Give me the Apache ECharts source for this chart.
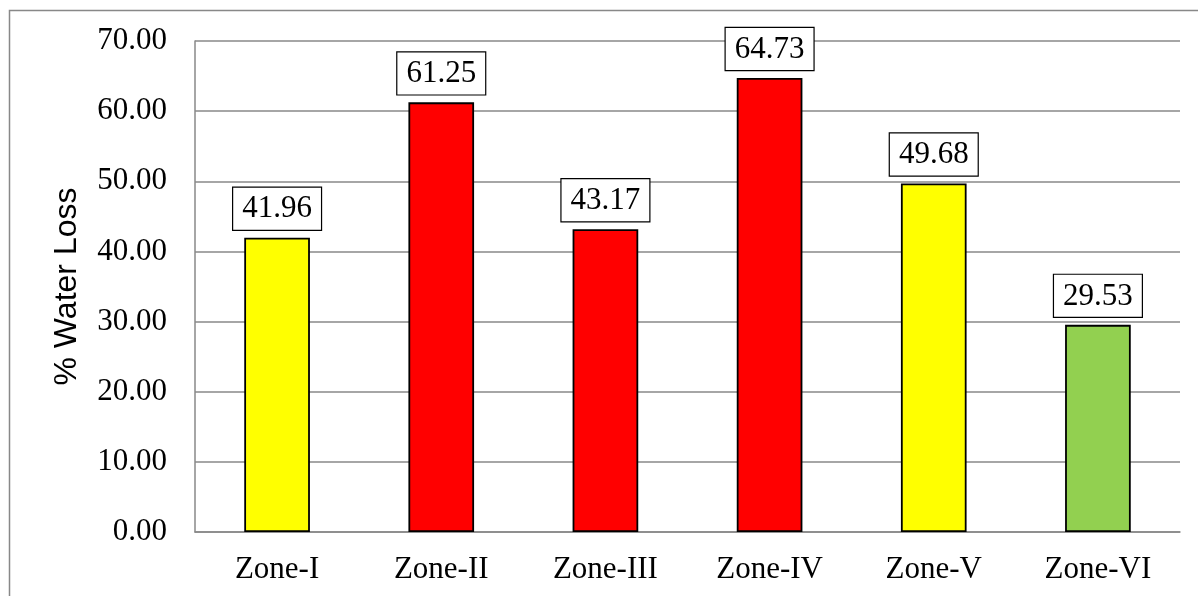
<!DOCTYPE html>
<html>
<head>
<meta charset="utf-8">
<script src="https://cdn.jsdelivr.net/npm/echarts@6/dist/echarts.min.js"></script>
<style>
html,body{margin:0;padding:0;background:#fff;}
#chart{width:1198px;height:596px;}
</style>
</head>
<body>
<div id="chart"></div>
<script>
const categories = ['Zone-I', 'Zone-II', 'Zone-III', 'Zone-IV', 'Zone-V', 'Zone-VI'];
const values = [41.96, 61.25, 43.17, 64.73, 49.68, 29.53];
const barColors = ['#FFFF00', '#FF0000', '#FF0000', '#FF0000', '#FFFF00', '#92D050'];
const yTicks = { min: 0, max: 70, interval: 10 };
const yTitle = '% Water Loss';

const chart = echarts.init(document.getElementById('chart'));
const serif = '"Liberation Serif", "Times New Roman", serif';
chart.setOption({
  animation: false,
  backgroundColor: '#fff',
  graphic: [{
    type: 'rect',
    shape: { x: 9.5, y: 10.5, width: 1200, height: 600 },
    style: { fill: 'none', stroke: '#888', lineWidth: 1.5 },
    silent: true, z: -1
  }],
  grid: { left: 195, right: 18, top: 41, bottom: 64 },
  xAxis: {
    type: 'category',
    data: categories,
    axisLine: { show: true, lineStyle: { color: '#888', width: 1.5 } },
    axisTick: { show: false },
    axisLabel: { color: '#000', fontFamily: serif, fontSize: 31, margin: 22 }
  },
  yAxis: {
    type: 'value',
    min: yTicks.min, max: yTicks.max, interval: yTicks.interval,
    name: yTitle,
    nameLocation: 'middle',
    nameGap: 112,
    nameTextStyle: { color: '#000', fontFamily: '"Liberation Sans", Arial, sans-serif', fontSize: 32 },
    axisLine: { show: true, lineStyle: { color: '#888', width: 1.5 } },
    axisTick: { show: false },
    splitLine: { lineStyle: { color: '#888', width: 1.5 } },
    axisLabel: {
      color: '#000', fontFamily: serif, fontSize: 31, margin: 28,
      formatter: v => v.toFixed(2)
    }
  },
  series: [{
    type: 'bar',
    barWidth: '40%',
    data: values.map((v, i) => ({
      value: v,
      itemStyle: { color: barColors[i], borderColor: '#000', borderWidth: 1.8 }
    })),
    label: {
      show: true,
      position: 'top',
      distance: 8,
      formatter: p => p.value.toFixed(2),
      color: '#000',
      fontFamily: serif,
      fontSize: 31,
      backgroundColor: '#fff',
      borderColor: '#000',
      borderWidth: 1.2,
      padding: [6, 9, 5, 9]
    }
  }]
});
</script>
</body>
</html>
